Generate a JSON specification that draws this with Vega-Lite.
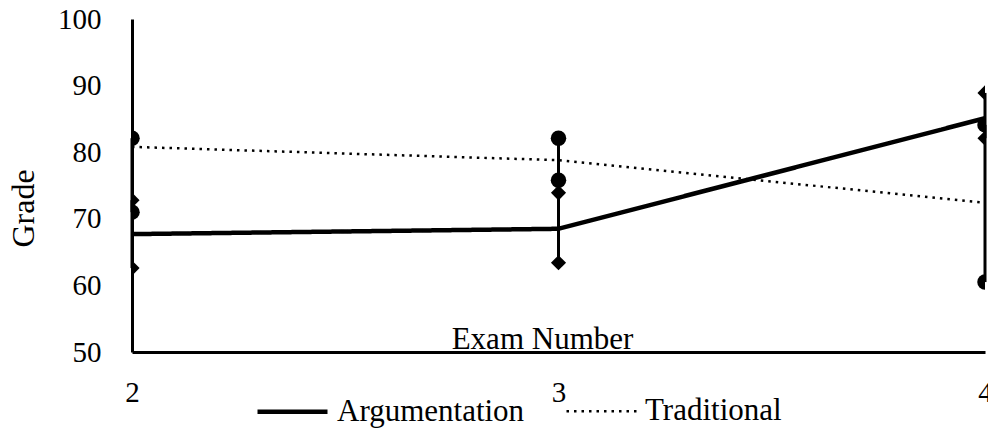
{
  "$schema": "https://vega.github.io/schema/vega-lite/v6.json",
  "width": 853,
  "height": 333,
  "autosize": {"type": "none"},
  "padding": {"left": 132, "top": 19, "right": 3, "bottom": 83},
  "background": "white",
  "config": {
    "font": "Liberation Serif",
    "view": {"stroke": null},
    "axis": {"grid": false, "ticks": false, "domainColor": "black", "domainWidth": 3, "labelColor": "black", "titleColor": "black", "labelFont": "Liberation Serif", "titleFont": "Liberation Serif", "titleFontWeight": "normal", "labelOverlap": false},
    "legend": {"labelFont": "Liberation Serif", "labelFontSize": 31, "labelColor": "black", "labelLimit": 400, "symbolType": "stroke", "symbolSize": 4900, "symbolStrokeColor": "black", "labelOffset": 7, "columnPadding": 36}
  },
  "datasets": {
    "means": [
      {"exam": 2, "series": "Argumentation", "grade": 67.7},
      {"exam": 3, "series": "Argumentation", "grade": 68.5},
      {"exam": 4, "series": "Argumentation", "grade": 85.1},
      {"exam": 2, "series": "Traditional", "grade": 80.8},
      {"exam": 3, "series": "Traditional", "grade": 78.8},
      {"exam": 4, "series": "Traditional", "grade": 72.4}
    ],
    "errors": [
      {"exam": 2, "series": "Argumentation", "low": 62.6, "high": 72.8},
      {"exam": 3, "series": "Argumentation", "low": 63.4, "high": 73.9},
      {"exam": 4, "series": "Argumentation", "low": 82.1, "high": 88.9},
      {"exam": 2, "series": "Traditional", "low": 71.0, "high": 82.1},
      {"exam": 3, "series": "Traditional", "low": 75.8, "high": 82.1},
      {"exam": 4, "series": "Traditional", "low": 60.5, "high": 84.1}
    ]
  },
  "encoding": {
    "x": {"field": "exam", "type": "quantitative", "scale": {"domain": [2, 4]}, "axis": {"tickCount": 2, "labelFontSize": 29, "labelPadding": 26, "labelFlush": false, "labelBound": false, "labelOverlap": false, "title": "Exam Number", "titleFontSize": 31, "titleX": 410, "titleY": -4, "titleBaseline": "alphabetic", "titleAnchor": "middle", "titleAlign": "center", "zindex": 1}}
  },
  "layer": [
    {
      "data": {"name": "errors"},
      "mark": {"type": "rule", "color": "black", "strokeWidth": 3},
      "encoding": {
        "y": {"field": "low", "type": "quantitative", "scale": {"domain": [50, 100]}, "axis": {"values": [50, 60, 70, 80, 90, 100], "labelFontSize": 29, "labelPadding": 31, "title": "Grade", "titleFontSize": 32, "titleX": -109, "titleY": 189, "titleAngle": -90, "titleAlign": "center", "titleBaseline": "middle"}},
        "y2": {"field": "high"}
      }
    },
    {
      "data": {"name": "errors"},
      "transform": [{"fold": ["low", "high"], "as": ["end", "value"]}],
      "mark": {"type": "point", "filled": true, "color": "black", "opacity": 1, "clip": true},
      "encoding": {
        "y": {"field": "value", "type": "quantitative", "axis": {"values": [50, 60, 70, 80, 90, 100], "labelFontSize": 29, "labelPadding": 31, "title": "Grade", "titleFontSize": 32, "titleX": -109, "titleY": 189, "titleAngle": -90, "titleAlign": "center", "titleBaseline": "middle"}},
        "shape": {"field": "series", "type": "nominal", "scale": {"domain": ["Argumentation", "Traditional"], "range": ["diamond", "circle"]}, "legend": null},
        "size": {"field": "series", "type": "nominal", "scale": {"domain": ["Argumentation", "Traditional"], "range": [230, 240]}, "legend": null}
      }
    },
    {
      "data": {"name": "means"},
      "mark": {"type": "line", "color": "black", "clip": true},
      "encoding": {
        "y": {"field": "grade", "type": "quantitative", "axis": {"values": [50, 60, 70, 80, 90, 100], "labelFontSize": 29, "labelPadding": 31, "title": "Grade", "titleFontSize": 32, "titleX": -109, "titleY": 189, "titleAngle": -90, "titleAlign": "center", "titleBaseline": "middle"}},
        "strokeDash": {"field": "series", "type": "nominal", "scale": {"domain": ["Argumentation", "Traditional"], "range": [[1, 0], [2.5, 5]]}, "legend": {"title": null, "orient": "none", "direction": "horizontal", "legendX": 123, "legendY": 355}},
        "strokeWidth": {"field": "series", "type": "nominal", "scale": {"domain": ["Argumentation", "Traditional"], "range": [4.5, 2.5]}, "legend": {"title": null, "orient": "none", "direction": "horizontal", "legendX": 123, "legendY": 355}}
      }
    }
  ],
  "resolve": {"scale": {"shape": "independent", "size": "independent"}}
}
